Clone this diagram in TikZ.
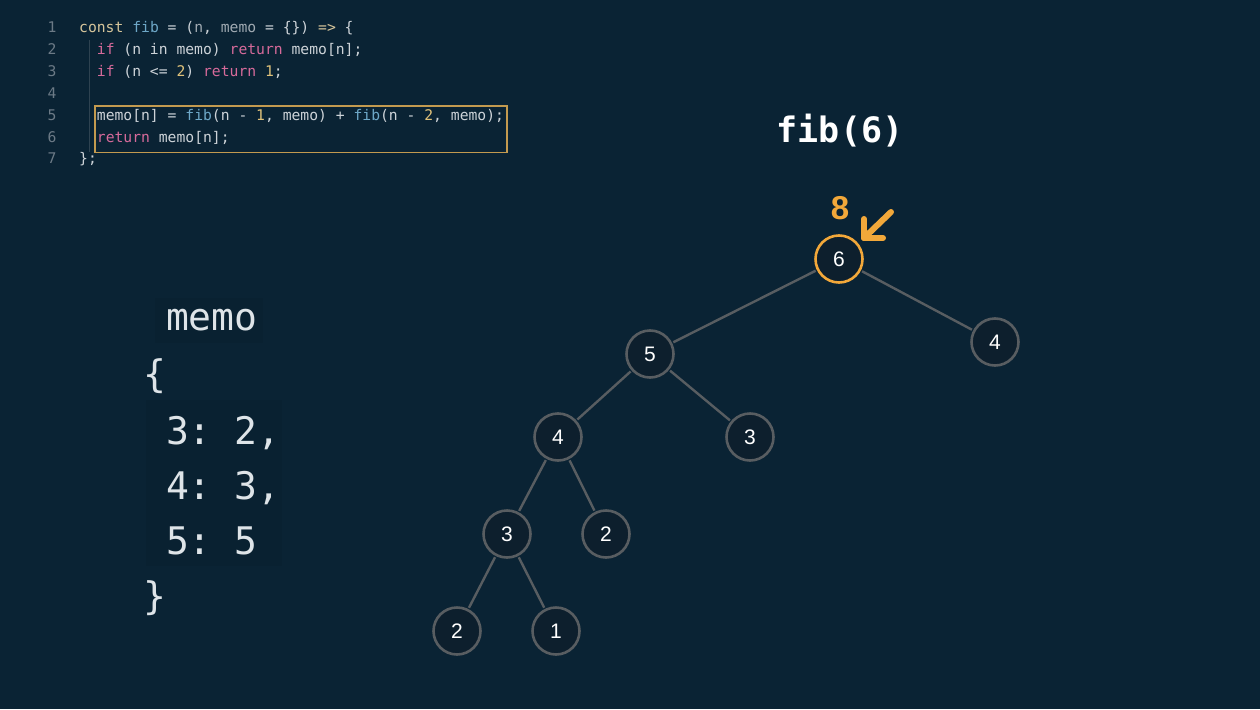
\documentclass[tikz,border=0pt]{standalone}
\usepackage{fontspec}
\setmainfont{Liberation Sans}
\newfontfamily\codefont{DejaVu Sans Mono}
\newfontfamily\numfont{Liberation Sans}
\usetikzlibrary{arrows.meta,calc}
\definecolor{bg}{RGB}{10,35,52}
\definecolor{nodefill}{RGB}{13,31,45}
\definecolor{edgegrey}{RGB}{88,93,97}
\definecolor{hl}{RGB}{242,168,58}
\definecolor{boxgold}{RGB}{195,154,79}
\definecolor{ctext}{RGB}{205,211,216}
\definecolor{cdim}{RGB}{160,170,178}
\definecolor{ckw}{RGB}{214,197,155}
\definecolor{cfn}{RGB}{110,168,200}
\definecolor{cpink}{RGB}{214,106,154}
\definecolor{cnum}{RGB}{224,194,122}
\definecolor{lnum}{RGB}{108,122,134}
\definecolor{guide}{RGB}{46,66,80}
\definecolor{memotext}{RGB}{222,228,232}
\definecolor{memobg}{RGB}{9,33,49}
\newcommand\cKw[1]{\textcolor{ckw}{#1}}
\newcommand\cFn[1]{\textcolor{cfn}{#1}}
\newcommand\cPk[1]{\textcolor{cpink}{#1}}
\newcommand\cNm[1]{\textcolor{cnum}{#1}}
\newcommand\cDm[1]{\textcolor{cdim}{#1}}
\tikzset{
  codeline/.style={anchor=base west, inner sep=0pt, text=ctext, font=\codefont\fontsize{14.7}{18}\selectfont},
  linenum/.style={anchor=base, inner sep=0pt, text=lnum, font=\codefont\fontsize{14.7}{18}\selectfont},
  memoline/.style={anchor=base west, inner sep=0pt, text=memotext, font=\codefont\fontsize{38}{44}\selectfont},
  treenode/.style={circle, draw=edgegrey, line width=2.6pt, fill=nodefill, minimum size=47pt, inner sep=0pt, text=white, font=\numfont\fontsize{21}{24}\selectfont},
  hotnode/.style={treenode, draw=hl},
  edge/.style={draw=edgegrey, line width=2.4pt, shorten <=1.3pt, shorten >=1.3pt},
}
\begin{document}
\begin{tikzpicture}[x=1pt,y=-1pt]
\fill[bg] (0,0) rectangle (1260,709);
\useasboundingbox (0,0) rectangle (1260,709);

% code
\draw[guide, line width=0.8pt] (89,40) -- (89,152);
\foreach \n/\y in {1/33,2/54.8,3/76.6,4/98.4,5/120.2,6/142,7/163.8}
  \node[linenum] (ln\n) at (52,\y) {\n};
\node[codeline] (c1) at (79,33) {\cKw{const} \cFn{fib} = (\cDm{n}, \cDm{memo} = \{\}) \cKw{=>} \{};
\node[codeline] (c2) at (96.7,54.8) {\cPk{if} (n in memo) \cPk{return} memo[n];};
\node[codeline] (c3) at (96.7,76.6) {\cPk{if} (n <= \cNm{2}) \cPk{return} \cNm{1};};
\node[codeline] (c5) at (96.7,120.2) {memo[n] = \cFn{fib}(n - \cNm{1}, memo) + \cFn{fib}(n - \cNm{2}, memo);};
\node[codeline] (c6) at (96.7,142) {\cPk{return} memo[n];};
\node[codeline] (c7) at (79,163.8) {\};};
\draw[boxgold, line width=1.6pt] (95,106) rectangle (507,152.5);

% memo panel
\fill[memobg] (155,298) rectangle (263,343);
\fill[memobg] (146,400) rectangle (282,566);
\node[memoline] (m0) at (143,330) {\ memo};
\node[memoline] (m1) at (143,387) {\{};
\node[memoline] (m2) at (143,444) {\ 3:\ 2,};
\node[memoline] (m3) at (143,499) {\ 4:\ 3,};
\node[memoline] (m4) at (143,554) {\ 5:\ 5};
\node[memoline] (m5) at (143,609) {\}};

% title
\node[inner sep=0pt, text=white, font=\codefont\bfseries\fontsize{35}{40}\selectfont] (title) at (840,131) {fib(6)};

% tree
\node[hotnode] (n6) at (839,259) {6};
\node[treenode] (n5) at (650,354) {5};
\node[treenode] (n4r) at (995,342) {4};
\node[treenode] (n4) at (558,437) {4};
\node[treenode] (n3r) at (750,437) {3};
\node[treenode] (n3) at (507,534) {3};
\node[treenode] (n2r) at (606,534) {2};
\node[treenode] (n2) at (457,631) {2};
\node[treenode] (n1) at (556,631) {1};
\draw[edge] (n6) -- (n5);
\draw[edge] (n6) -- (n4r);
\draw[edge] (n5) -- (n4);
\draw[edge] (n5) -- (n3r);
\draw[edge] (n4) -- (n3);
\draw[edge] (n4) -- (n2r);
\draw[edge] (n3) -- (n2);
\draw[edge] (n3) -- (n1);

% result
\node[inner sep=0pt, text=hl, font=\bfseries\fontsize{33}{38}\selectfont] (res) at (840,208) {8};
\coordinate (atail) at (891,212);
\coordinate (atip) at (864,238);
\draw[hl, line width=6pt, line cap=round] (atail) -- (atip);
\draw[hl, line width=6pt, line cap=round, line join=round] ($(atip)+(0,-19)$) -- (atip) -- ($(atip)+(19,0)$);
\end{tikzpicture}
\end{document}
